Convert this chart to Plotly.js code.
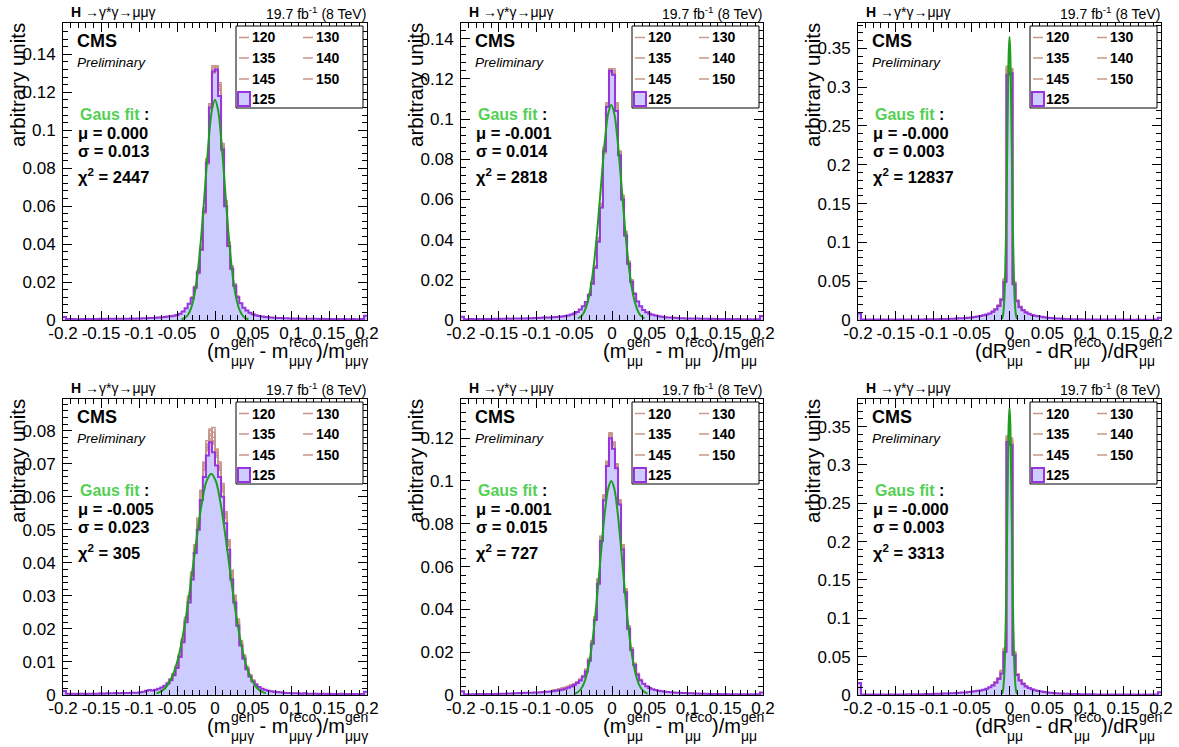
<!DOCTYPE html>
<html><head><meta charset="utf-8">
<script src="https://cdn.plot.ly/plotly-3.0.1.min.js"></script>
<style>html,body{margin:0;padding:0;background:#fff}#chart{width:1179px;height:747px}</style>
</head><body><div id="chart"></div>
<script>
// ---------------- DATA ----------------
const BIN_LO = -0.2, BIN_W = 0.004;
const massLabels = ['120','130','135','140','145','150'];
const nominalLabel = '125';
const xTickVals = [-0.2,-0.15,-0.1,-0.05,0,0.05,0.1,0.15,0.2];
const xTickText = ['-0.2','-0.15','-0.1','-0.05','0','0.05','0.1','0.15','0.2'];
const channelLabel = '<b>H</b> →γ*γ→μμγ';
const lumiLabel = '19.7 fb<sup>-1</sup> (8 TeV)';
const fitMu = ['0.000','-0.001','-0.000','-0.005','-0.001','-0.000'];
const fitSigma = ['0.013','0.014','0.003','0.023','0.015','0.003'];
const fitChi2 = ['2447','2818','12837','305','727','3313'];
const xTitleParts = {
  mmmg: [['(m'],['gen','μμγ'],[' - m'],['reco','μμγ'],[')/m'],['gen','μμγ']],
  mmm:  [['(m'],['gen','μμ'],[' - m'],['reco','μμ'],[')/m'],['gen','μμ']],
  dR:   [['(dR'],['gen','μμ'],[' - dR'],['reco','μμ'],[')/dR'],['gen','μμ']]
};

// ---- top-left: (m_gen - m_reco)/m_gen  mumugamma ----
const h125_TL = [
0.0016,0.0005,0.0004,0.0005,0.0004,0.0004,0.0005,0.0004,0.0005,0.0005,
0.0005,0.0005,0.0006,0.0005,0.0006,0.0006,0.0006,0.0007,0.0006,0.0007,
0.0007,0.0007,0.0008,0.0007,0.0008,0.0008,0.0009,0.0009,0.0010,0.0011,
0.0012,0.0013,0.0014,0.0016,0.0018,0.0020,0.0023,0.0027,0.0033,0.0045,
0.0062,0.0085,0.0115,0.017,0.025,0.037,0.057,0.083,0.112,0.131,
0.132,0.118,0.090,0.060,0.039,0.027,0.018,0.012,0.0088,0.0065,
0.0050,0.0038,0.0030,0.0025,0.0021,0.0018,0.0016,0.0014,0.0013,0.0012,
0.0011,0.0010,0.0009,0.0009,0.0008,0.0008,0.0007,0.0008,0.0007,0.0007,
0.0006,0.0007,0.0006,0.0006,0.0005,0.0006,0.0005,0.0005,0.0005,0.0004,
0.0005,0.0004,0.0005,0.0004,0.0004,0.0005,0.0004,0.0004,0.0005,0.0022];
const brownLo_TL = -0.032;
const TL_m120 = [0.0120,0.0175,0.026,0.038,0.058,0.084,0.114,0.133,0.134,0.124,0.092,0.062,0.040,0.028,0.019,0.0125];
const TL_m130 = [0.0118,0.0172,0.025,0.039,0.056,0.085,0.113,0.134,0.131,0.121,0.091,0.061,0.041,0.027,0.0185,0.012];
const TL_m135 = [0.0112,0.0168,0.0255,0.037,0.058,0.082,0.111,0.132,0.133,0.124,0.089,0.062,0.040,0.0275,0.018,0.0124];
const TL_m140 = [0.0121,0.0178,0.0245,0.038,0.057,0.084,0.114,0.130,0.134,0.122,0.093,0.060,0.041,0.028,0.019,0.0122];
const TL_m145 = [0.0117,0.0171,0.026,0.0375,0.059,0.083,0.112,0.133,0.132,0.123,0.090,0.063,0.039,0.0285,0.0187,0.0119];
const TL_m150 = [0.0119,0.0174,0.0252,0.038,0.057,0.085,0.113,0.131,0.133,0.125,0.092,0.061,0.040,0.027,0.0182,0.0126];
const fitX_TL = [-0.044,-0.040,-0.036,-0.032,-0.028,-0.024,-0.020,-0.016,-0.012,-0.008,-0.004,0,0.004,0.008,0.012,0.016,0.020,0.024,0.028,0.032,0.036,0.040,0.044];
const fitY_TL = [0.0004,0.0010,0.0025,0.0056,0.0114,0.0211,0.0355,0.0544,0.0758,0.0960,0.1107,0.1160,0.1107,0.0960,0.0758,0.0544,0.0355,0.0211,0.0114,0.0056,0.0025,0.0010,0.0004];

// ---- top-middle: (m_gen - m_reco)/m_gen  mumu ----
const h125_TM = [
0.0016,0.0004,0.0004,0.0005,0.0004,0.0005,0.0004,0.0005,0.0005,0.0005,
0.0005,0.0006,0.0005,0.0006,0.0006,0.0007,0.0006,0.0007,0.0007,0.0008,
0.0008,0.0008,0.0009,0.0009,0.0010,0.0010,0.0011,0.0012,0.0012,0.0013,
0.0014,0.0015,0.0016,0.0018,0.0020,0.0023,0.0027,0.0032,0.0040,0.0052,
0.0068,0.0090,0.0125,0.018,0.026,0.039,0.056,0.084,0.106,0.124,
0.122,0.104,0.082,0.060,0.042,0.028,0.019,0.013,0.0092,0.0068,
0.0050,0.0039,0.0031,0.0026,0.0022,0.0019,0.0016,0.0014,0.0013,0.0012,
0.0011,0.0010,0.0009,0.0009,0.0008,0.0008,0.0007,0.0007,0.0007,0.0006,
0.0006,0.0006,0.0005,0.0006,0.0005,0.0005,0.0005,0.0004,0.0005,0.0004,
0.0004,0.0005,0.0004,0.0004,0.0004,0.0004,0.0003,0.0004,0.0004,0.0020];
const brownLo_TM = -0.032;
const TM_m120 = [0.013,0.019,0.027,0.040,0.057,0.085,0.107,0.125,0.123,0.108,0.083,0.061,0.043,0.029,0.0195,0.0135];
const TM_m130 = [0.0128,0.0185,0.0265,0.0395,0.058,0.083,0.108,0.124,0.124,0.106,0.084,0.062,0.042,0.0285,0.019,0.013];
const TM_m135 = [0.0122,0.0182,0.027,0.040,0.057,0.086,0.106,0.125,0.122,0.107,0.083,0.061,0.044,0.029,0.020,0.0132];
const TM_m140 = [0.013,0.0188,0.026,0.041,0.056,0.085,0.108,0.123,0.124,0.105,0.084,0.060,0.043,0.028,0.0192,0.0136];
const TM_m145 = [0.0127,0.0183,0.0268,0.0398,0.058,0.084,0.107,0.125,0.123,0.107,0.082,0.062,0.042,0.0292,0.0188,0.0131];
const TM_m150 = [0.0126,0.0187,0.0262,0.0402,0.0575,0.085,0.106,0.124,0.125,0.108,0.083,0.061,0.0435,0.0288,0.0194,0.0134];
const fitX_TM = [-0.045,-0.041,-0.037,-0.033,-0.029,-0.025,-0.021,-0.017,-0.013,-0.009,-0.005,-0.001,0.003,0.007,0.011,0.015,0.019,0.023,0.027,0.031,0.035,0.039,0.043];
const fitY_TM = [0.0008,0.0018,0.0039,0.0079,0.0145,0.0246,0.0385,0.0557,0.0741,0.0909,0.1027,0.1070,0.1027,0.0909,0.0741,0.0557,0.0385,0.0246,0.0145,0.0079,0.0039,0.0018,0.0008];

// ---- top-right: (dR_gen - dR_reco)/dR_gen ----
const h125_TR = [
0.0085,0.0006,0.0005,0.0005,0.0005,0.0005,0.0005,0.0005,0.0005,0.0005,
0.0005,0.0005,0.0006,0.0006,0.0006,0.0006,0.0007,0.0007,0.0007,0.0008,
0.0008,0.0008,0.0009,0.0009,0.0010,0.0010,0.0011,0.0012,0.0013,0.0014,
0.0016,0.0017,0.0019,0.0021,0.0023,0.0026,0.0029,0.0033,0.0038,0.0045,
0.0052,0.0060,0.0070,0.0085,0.0105,0.0135,0.0180,0.026,0.049,0.316,
0.318,0.046,0.024,0.0165,0.0125,0.0098,0.0080,0.0066,0.0056,0.0048,
0.0041,0.0035,0.0030,0.0026,0.0023,0.0020,0.0018,0.0016,0.0014,0.0013,
0.0011,0.0010,0.0009,0.0009,0.0008,0.0008,0.0007,0.0007,0.0007,0.0006,
0.0006,0.0006,0.0006,0.0005,0.0005,0.0005,0.0005,0.0005,0.0004,0.0005,
0.0004,0.0004,0.0005,0.0004,0.0004,0.0004,0.0004,0.0004,0.0005,0.0030];
const brownLo_TR = -0.024;
const TR_m120 = [0.0110,0.0140,0.0188,0.0272,0.052,0.327,0.320,0.048,0.0252,0.0172,0.0130,0.0102];
const TR_m130 = [0.0108,0.0138,0.0185,0.0268,0.051,0.322,0.323,0.047,0.0248,0.0170,0.0128,0.0101];
const TR_m135 = [0.0111,0.0141,0.0190,0.0275,0.053,0.325,0.318,0.049,0.0255,0.0174,0.0131,0.0103];
const TR_m140 = [0.0107,0.0137,0.0186,0.0270,0.050,0.320,0.324,0.048,0.0250,0.0171,0.0129,0.0100];
const TR_m145 = [0.0109,0.0139,0.0189,0.0274,0.052,0.326,0.321,0.047,0.0253,0.0173,0.0130,0.0102];
const TR_m150 = [0.0110,0.0140,0.0187,0.0271,0.051,0.323,0.322,0.049,0.0251,0.0172,0.0129,0.0101];
const fitX_TR = [-0.010,-0.009,-0.008,-0.007,-0.006,-0.005,-0.004,-0.003,-0.002,-0.001,0,0.001,0.002,0.003,0.004,0.005,0.006,0.007,0.008,0.009,0.010];
const fitY_TR = [0.0014,0.0041,0.0104,0.024,0.049,0.091,0.150,0.221,0.292,0.345,0.365,0.345,0.292,0.221,0.150,0.091,0.049,0.024,0.0104,0.0041,0.0014];

// ---- bottom-left ----
const h125_BL = [
0.0012,0.0004,0.0003,0.0004,0.0003,0.0004,0.0004,0.0003,0.0004,0.0004,
0.0004,0.0004,0.0005,0.0004,0.0005,0.0005,0.0005,0.0006,0.0005,0.0006,
0.0006,0.0006,0.0007,0.0007,0.0007,0.0008,0.0010,0.0013,0.0015,0.0014,
0.0016,0.0019,0.0023,0.0028,0.0035,0.0045,0.0060,0.0082,0.0115,0.016,
0.022,0.028,0.035,0.043,0.050,0.059,0.066,0.0725,0.0765,0.0735,
0.0695,0.066,0.060,0.052,0.044,0.035,0.028,0.021,0.015,0.011,
0.0078,0.0056,0.0041,0.0031,0.0024,0.0019,0.0016,0.0013,0.0011,0.0010,
0.0009,0.0008,0.0007,0.0006,0.0006,0.0005,0.0005,0.0005,0.0004,0.0005,
0.0004,0.0004,0.0004,0.0004,0.0003,0.0004,0.0003,0.0004,0.0003,0.0003,
0.0003,0.0004,0.0003,0.0003,0.0003,0.0003,0.0003,0.0003,0.0003,0.0010];
const brownLo_BL = -0.064;
const BL_m120 = [0.0037,0.0048,0.0063,0.0086,0.0120,0.0168,0.0232,0.0295,0.0365,0.0448,0.0525,0.0610,0.0690,0.0745,0.0775,0.0810,0.0720,0.0690,0.0625,0.0545,0.0460,0.0370,0.0295,0.0225,0.0160,0.0118,0.0083,0.0060,0.0044,0.0033];
const BL_m130 = [0.0036,0.0047,0.0062,0.0085,0.0118,0.0165,0.0228,0.0290,0.0362,0.0440,0.0520,0.0600,0.0685,0.0760,0.0790,0.0760,0.0730,0.0680,0.0620,0.0540,0.0455,0.0365,0.0290,0.0222,0.0158,0.0116,0.0082,0.0059,0.0043,0.0032];
const BL_m135 = [0.0038,0.0049,0.0064,0.0087,0.0122,0.0170,0.0235,0.0300,0.0370,0.0452,0.0530,0.0615,0.0700,0.0740,0.0800,0.0770,0.0740,0.0700,0.0635,0.0550,0.0465,0.0375,0.0300,0.0228,0.0162,0.0120,0.0085,0.0061,0.0045,0.0034];
const BL_m140 = [0.0036,0.0046,0.0061,0.0084,0.0117,0.0164,0.0226,0.0288,0.0360,0.0445,0.0518,0.0605,0.0680,0.0750,0.0770,0.0795,0.0725,0.0685,0.0615,0.0535,0.0450,0.0362,0.0288,0.0220,0.0156,0.0115,0.0081,0.0058,0.0042,0.0032];
const BL_m145 = [0.0037,0.0048,0.0063,0.0086,0.0119,0.0167,0.0230,0.0293,0.0368,0.0450,0.0528,0.0612,0.0695,0.0770,0.0785,0.0765,0.0735,0.0695,0.0630,0.0548,0.0462,0.0372,0.0298,0.0226,0.0161,0.0119,0.0084,0.0060,0.0044,0.0033];
const BL_m150 = [0.0038,0.0049,0.0064,0.0088,0.0121,0.0169,0.0233,0.0297,0.0372,0.0455,0.0535,0.0620,0.0705,0.0755,0.0805,0.0780,0.0745,0.0705,0.0640,0.0555,0.0470,0.0378,0.0302,0.0230,0.0164,0.0121,0.0086,0.0062,0.0045,0.0034];
const fitX_BL = [-0.077,-0.071,-0.065,-0.059,-0.053,-0.047,-0.041,-0.035,-0.029,-0.023,-0.017,-0.011,-0.005,0.001,0.007,0.013,0.019,0.025,0.031,0.037,0.043,0.049,0.055,0.061,0.067];
const fitY_BL = [0.0005,0.0011,0.0022,0.0043,0.0076,0.0126,0.0197,0.0286,0.0389,0.0493,0.0585,0.0648,0.0670,0.0648,0.0585,0.0493,0.0389,0.0286,0.0197,0.0126,0.0076,0.0043,0.0022,0.0011,0.0005];

// ---- bottom-middle ----
const h125_BM = [
0.0018,0.0004,0.0004,0.0004,0.0004,0.0005,0.0004,0.0005,0.0005,0.0005,
0.0005,0.0005,0.0006,0.0006,0.0006,0.0007,0.0007,0.0008,0.0008,0.0009,
0.0009,0.0010,0.0010,0.0011,0.0012,0.0012,0.0013,0.0014,0.0015,0.0016,
0.0018,0.0020,0.0022,0.0025,0.0029,0.0034,0.0040,0.0047,0.0056,0.0068,
0.0085,0.011,0.016,0.024,0.035,0.052,0.072,0.091,0.107,0.120,
0.115,0.106,0.089,0.068,0.048,0.031,0.021,0.014,0.0095,0.0068,
0.0052,0.0041,0.0033,0.0027,0.0023,0.0020,0.0017,0.0015,0.0014,0.0013,
0.0012,0.0011,0.0010,0.0009,0.0009,0.0008,0.0008,0.0007,0.0007,0.0006,
0.0006,0.0006,0.0005,0.0005,0.0005,0.0005,0.0004,0.0005,0.0004,0.0004,
0.0004,0.0004,0.0004,0.0003,0.0004,0.0004,0.0003,0.0004,0.0004,0.0012];
const brownLo_BM = -0.080;
const BM_m120 = [0.0021,0.0024,0.0026,0.0030,0.0034,0.0039,0.0045,0.0052,0.0061,0.0073,0.0090,0.0118,0.0168,0.0250,0.0362,0.0535,0.0735,0.0930,0.1085,0.1220,0.1180,0.1070,0.0905,0.0695,0.0492,0.0320,0.0218,0.0146,0.0099,0.0071];
const BM_m130 = [0.0020,0.0023,0.0027,0.0029,0.0033,0.0038,0.0044,0.0051,0.0060,0.0071,0.0088,0.0115,0.0165,0.0245,0.0358,0.0530,0.0730,0.0925,0.1090,0.1210,0.1170,0.1080,0.0900,0.0690,0.0488,0.0318,0.0215,0.0144,0.0098,0.0070];
const BM_m135 = [0.0022,0.0025,0.0028,0.0031,0.0035,0.0040,0.0046,0.0053,0.0062,0.0074,0.0091,0.0120,0.0170,0.0252,0.0365,0.0540,0.0740,0.0935,0.1080,0.1225,0.1175,0.1075,0.0910,0.0700,0.0495,0.0322,0.0220,0.0147,0.0100,0.0072];
const BM_m140 = [0.0019,0.0022,0.0025,0.0028,0.0032,0.0037,0.0043,0.0050,0.0059,0.0070,0.0087,0.0113,0.0162,0.0242,0.0355,0.0525,0.0725,0.0920,0.1075,0.1215,0.1165,0.1065,0.0895,0.0685,0.0485,0.0315,0.0213,0.0142,0.0097,0.0069];
const BM_m145 = [0.0021,0.0024,0.0027,0.0030,0.0034,0.0039,0.0045,0.0052,0.0061,0.0072,0.0089,0.0117,0.0167,0.0248,0.0360,0.0538,0.0738,0.0928,0.1088,0.1218,0.1178,0.1072,0.0908,0.0698,0.0490,0.0319,0.0217,0.0145,0.0099,0.0071];
const BM_m150 = [0.0022,0.0024,0.0028,0.0031,0.0035,0.0040,0.0046,0.0053,0.0062,0.0073,0.0090,0.0119,0.0169,0.0251,0.0363,0.0542,0.0742,0.0932,0.1092,0.1222,0.1182,0.1078,0.0912,0.0702,0.0494,0.0321,0.0219,0.0148,0.0100,0.0072];
const fitX_BM = [-0.049,-0.045,-0.041,-0.037,-0.033,-0.029,-0.025,-0.021,-0.017,-0.013,-0.009,-0.005,-0.001,0.003,0.007,0.011,0.015,0.019,0.023,0.027,0.031,0.035,0.039,0.043,0.047];
const fitY_BM = [0.0006,0.0014,0.0029,0.0056,0.0103,0.0175,0.0278,0.0411,0.0566,0.0726,0.0867,0.0965,0.1000,0.0965,0.0867,0.0726,0.0566,0.0411,0.0278,0.0175,0.0103,0.0056,0.0029,0.0014,0.0006];

// ---- bottom-right ----
const h125_BR = [
0.0155,0.0007,0.0006,0.0006,0.0006,0.0006,0.0006,0.0006,0.0006,0.0007,
0.0007,0.0007,0.0007,0.0008,0.0008,0.0008,0.0009,0.0009,0.0010,0.0010,
0.0011,0.0011,0.0012,0.0013,0.0014,0.0015,0.0016,0.0017,0.0019,0.0020,
0.0022,0.0024,0.0026,0.0028,0.0031,0.0034,0.0038,0.0043,0.0048,0.0054,
0.0060,0.0070,0.0082,0.0100,0.0125,0.016,0.021,0.028,0.056,0.330,
0.326,0.052,0.026,0.019,0.0145,0.0112,0.0090,0.0074,0.0062,0.0052,
0.0045,0.0039,0.0034,0.0030,0.0026,0.0023,0.0021,0.0019,0.0017,0.0015,
0.0014,0.0013,0.0012,0.0011,0.0010,0.0010,0.0009,0.0009,0.0008,0.0008,
0.0007,0.0007,0.0007,0.0006,0.0006,0.0006,0.0006,0.0005,0.0005,0.0005,
0.0005,0.0005,0.0005,0.0004,0.0005,0.0004,0.0005,0.0004,0.0005,0.0035];
const brownLo_BR = -0.024;
const BR_m120 = [0.0130,0.0168,0.0222,0.0315,0.060,0.338,0.330,0.055,0.0275,0.0198,0.0150,0.0116];
const BR_m130 = [0.0128,0.0165,0.0218,0.0305,0.058,0.334,0.333,0.054,0.0270,0.0195,0.0148,0.0115];
const BR_m135 = [0.0132,0.0170,0.0225,0.0320,0.061,0.336,0.329,0.056,0.0278,0.0200,0.0152,0.0118];
const BR_m140 = [0.0127,0.0166,0.0220,0.0310,0.059,0.332,0.335,0.055,0.0272,0.0196,0.0149,0.0114];
const BR_m145 = [0.0131,0.0169,0.0223,0.0318,0.060,0.337,0.331,0.054,0.0276,0.0199,0.0151,0.0117];
const BR_m150 = [0.0129,0.0167,0.0221,0.0312,0.059,0.335,0.332,0.056,0.0273,0.0197,0.0150,0.0116];
const fitX_BR = [-0.010,-0.009,-0.008,-0.007,-0.006,-0.005,-0.004,-0.003,-0.002,-0.001,0,0.001,0.002,0.003,0.004,0.005,0.006,0.007,0.008,0.009,0.010];
const fitY_BR = [0.0014,0.0042,0.0107,0.0247,0.0505,0.0935,0.154,0.227,0.300,0.355,0.375,0.355,0.300,0.227,0.154,0.0935,0.0505,0.0247,0.0107,0.0042,0.0014];

// ---------------- STYLE / LAYOUT ----------------
const W = 1179, H = 747;
const FONT = 'Liberation Sans, Arial, Helvetica, sans-serif';
const FILL = '#ccccff', PURPLE = '#9933e0', BROWN = '#c8968a', GREEN = '#1e9e1e', GREEN_TXT = '#55d055';

const panels = [
  {h:h125_TL, lo:brownLo_TL, brown:[TL_m120,TL_m130,TL_m135,TL_m140,TL_m145,TL_m150], fx:fitX_TL, fy:fitY_TL, xt:'mmmg', frame:[63,367,23,320], ymax:0.1565, ydt:0.02},
  {h:h125_TM, lo:brownLo_TM, brown:[TM_m120,TM_m130,TM_m135,TM_m140,TM_m145,TM_m150], fx:fitX_TM, fy:fitY_TM, xt:'mmm', frame:[461,763,23,320], ymax:0.1478, ydt:0.02},
  {h:h125_TR, lo:brownLo_TR, brown:[TR_m120,TR_m130,TR_m135,TR_m140,TR_m145,TR_m150], fx:fitX_TR, fy:fitY_TR, xt:'dR', frame:[858,1161,23,320], ymax:0.3827, ydt:0.05},
  {h:h125_BL, lo:brownLo_BL, brown:[BL_m120,BL_m130,BL_m135,BL_m140,BL_m145,BL_m150], fx:fitX_BL, fy:fitY_BL, xt:'mmmg', frame:[63,367,399,695], ymax:0.0896, ydt:0.01},
  {h:h125_BM, lo:brownLo_BM, brown:[BM_m120,BM_m130,BM_m135,BM_m140,BM_m145,BM_m150], fx:fitX_BM, fy:fitY_BM, xt:'mmm', frame:[461,763,399,695], ymax:0.1383, ydt:0.02},
  {h:h125_BR, lo:brownLo_BR, brown:[BR_m120,BR_m130,BR_m135,BR_m140,BR_m145,BR_m150], fx:fitX_BR, fy:fitY_BR, xt:'dR', frame:[858,1161,399,695], ymax:0.386, ydt:0.05}
];

function stepXY(lo, vals) {
  const i0 = Math.round((lo - BIN_LO) / BIN_W);
  const x = [], y = vals.slice();
  for (let k = 0; k <= vals.length; k++) x.push(+(BIN_LO + (i0 + k) * BIN_W).toFixed(4));
  y.push(vals[vals.length - 1]);
  return {x, y};
}
const fx = px => px / W, fy = py => 1 - py / H;
function ann(text, xPx, yPx, o) {
  return Object.assign({text, x:fx(xPx), y:fy(yPx), xref:'paper', yref:'paper', showarrow:false,
    xanchor:'left', yanchor:'middle', borderpad:0, borderwidth:0,
    font:{family:FONT, size:14, color:'#000'}}, o || {});
}
const ctx = document.createElement('canvas').getContext('2d');
function tw(t, size) { ctx.font = size + 'px "Liberation Sans", Arial'; return ctx.measureText(t).width; }

const data = [], shapes = [], annotations = [];
const layout = {width:W, height:H, margin:{l:0,r:0,t:0,b:0}, paper_bgcolor:'#fff', plot_bgcolor:'#fff',
  showlegend:false, shapes, annotations};

panels.forEach((p, k) => {
  const n = k + 1;
  const xa = n === 1 ? 'x' : 'x' + n, ya = n === 1 ? 'y' : 'y' + n;
  const [L, R, T, B] = p.frame;
  const axCommon = {showline:true, linecolor:'#000', linewidth:1, mirror:'allticks', ticks:'inside',
    ticklen:9, tickwidth:1, tickcolor:'#000', showgrid:false, zeroline:false, fixedrange:true,
    tickfont:{family:FONT, size:17, color:'#000'}};
  layout[n === 1 ? 'xaxis' : 'xaxis' + n] = Object.assign({}, axCommon, {
    domain:[fx(L), fx(R)], range:[-0.2, 0.2], anchor:ya,
    tickmode:'array', tickvals:xTickVals, ticktext:xTickText, ticklabelstandoff:-2,
    minor:{ticks:'inside', ticklen:5, tickcolor:'#000', tick0:-0.2, dtick:0.01, showgrid:false}});
  layout[n === 1 ? 'yaxis' : 'yaxis' + n] = Object.assign({}, axCommon, {
    domain:[fy(B), fy(T)], range:[0, p.ymax], anchor:xa,
    tickmode:'linear', tick0:0, dtick:p.ydt, ticklabelstandoff:3,
    minor:{ticks:'inside', ticklen:5, tickcolor:'#000', tick0:0, dtick:p.ydt / 5, showgrid:false}});

  const main = stepXY(BIN_LO, p.h);
  data.push({type:'scatter', mode:'lines', x:main.x, y:main.y, xaxis:xa, yaxis:ya,
    line:{shape:'hv', width:0, color:'rgba(0,0,0,0)'}, fill:'tozeroy', fillcolor:FILL, hoverinfo:'skip'});
  p.brown.forEach(b => {
    const s = stepXY(p.lo, b);
    data.push({type:'scatter', mode:'lines', x:s.x, y:s.y, xaxis:xa, yaxis:ya,
      line:{shape:'hv', width:1.5, color:BROWN}, hoverinfo:'skip'});
  });
  data.push({type:'scatter', mode:'lines', x:main.x, y:main.y, xaxis:xa, yaxis:ya,
    line:{shape:'hv', width:2, color:PURPLE}, hoverinfo:'skip'});
  data.push({type:'scatter', mode:'lines', x:p.fx, y:p.fy, xaxis:xa, yaxis:ya,
    line:{shape:'spline', smoothing:1, width:2, color:GREEN}, hoverinfo:'skip'});

  // header texts
  annotations.push(ann(channelLabel, L + 8, T - 11, {font:{family:FONT, size:14, color:'#000'}}));
  annotations.push(ann(lumiLabel, R - 1, T - 10, {xanchor:'right', font:{family:FONT, size:14, color:'#000'}}));
  // y title
  annotations.push(ann('arbitrary units', L - 46, T, {textangle:-90, xanchor:'center', yanchor:'top',
    font:{family:FONT, size:20.5, color:'#000'}}));
  // CMS block
  annotations.push(ann('<b>CMS</b>', L + 14, T + 18, {font:{family:FONT, size:18, color:'#000'}}));
  annotations.push(ann('<i>Preliminary</i>', L + 14, T + 39, {font:{family:FONT, size:13.6, color:'#000'}}));
  annotations.push(ann('<b><span style="color:' + GREEN_TXT + '">Gaus fit</span> :</b>', L + 17, T + 91, {font:{family:FONT, size:16, color:'#000'}}));
  annotations.push(ann('<b>μ = ' + fitMu[k] + '</b>', L + 15, T + 110, {font:{family:FONT, size:16.5, color:'#000'}}));
  annotations.push(ann('<b>σ = ' + fitSigma[k] + '</b>', L + 15, T + 128, {font:{family:FONT, size:16.5, color:'#000'}}));
  annotations.push(ann('<b>χ<sup>2</sup> = ' + fitChi2[k] + '</b>', L + 15, T + 153, {font:{family:FONT, size:16.5, color:'#000'}}));

  // x title with stacked super/subscripts
  const MS = 20, SS = 14;
  const parts = xTitleParts[p.xt];
  const widths = parts.map(pt => pt.length === 1 ? tw(pt[0], MS) : Math.max(tw(pt[0], SS), tw(pt[1], SS)));
  let cx = R + 1 - widths.reduce((a, b) => a + b, 0);
  parts.forEach((pt, j) => {
    if (pt.length === 1) {
      annotations.push(ann(pt[0].replace(/ /g, '\u00a0'), cx, B + 31, {font:{family:FONT, size:MS, color:'#000'}}));
    } else {
      annotations.push(ann(pt[0], cx, B + 21.5, {font:{family:FONT, size:SS, color:'#000'}}));
      annotations.push(ann(pt[1], cx, B + 41, {font:{family:FONT, size:SS, color:'#000'}}));
    }
    cx += widths[j];
  });

  // legend box
  const lx0 = R - 131, lx1 = R - 4, ly0 = T + 3, ly1 = T + 85;
  shapes.push({type:'rect', xref:'paper', yref:'paper', x0:fx(lx0), x1:fx(lx1), y0:fy(ly1), y1:fy(ly0),
    line:{color:'#000', width:1}, fillcolor:'#fff', layer:'above'});
  const rows = [ly0 + 11.5, ly0 + 32, ly0 + 53, ly0 + 73];
  massLabels.forEach((lab, j) => {
    const r = rows[Math.floor(j / 2)], x0 = lx0 + (j % 2 ? 67 : 3);
    shapes.push({type:'line', xref:'paper', yref:'paper', x0:fx(x0), x1:fx(x0 + 10), y0:fy(r), y1:fy(r),
      line:{color:BROWN, width:1.5}, layer:'above'});
    annotations.push(ann('<b>' + lab + '</b>', x0 + 13, r, {font:{family:FONT, size:14, color:'#000'}}));
  });
  shapes.push({type:'rect', xref:'paper', yref:'paper', x0:fx(lx0 + 2), x1:fx(lx0 + 14), y0:fy(rows[3] + 7), y1:fy(rows[3] - 7),
    line:{color:PURPLE, width:2}, fillcolor:FILL, layer:'above'});
  annotations.push(ann('<b>' + nominalLabel + '</b>', lx0 + 16, rows[3], {font:{family:FONT, size:14, color:'#000'}}));
});

Plotly.newPlot('chart', data, layout, {staticPlot:true, displayModeBar:false});
</script></body></html>
